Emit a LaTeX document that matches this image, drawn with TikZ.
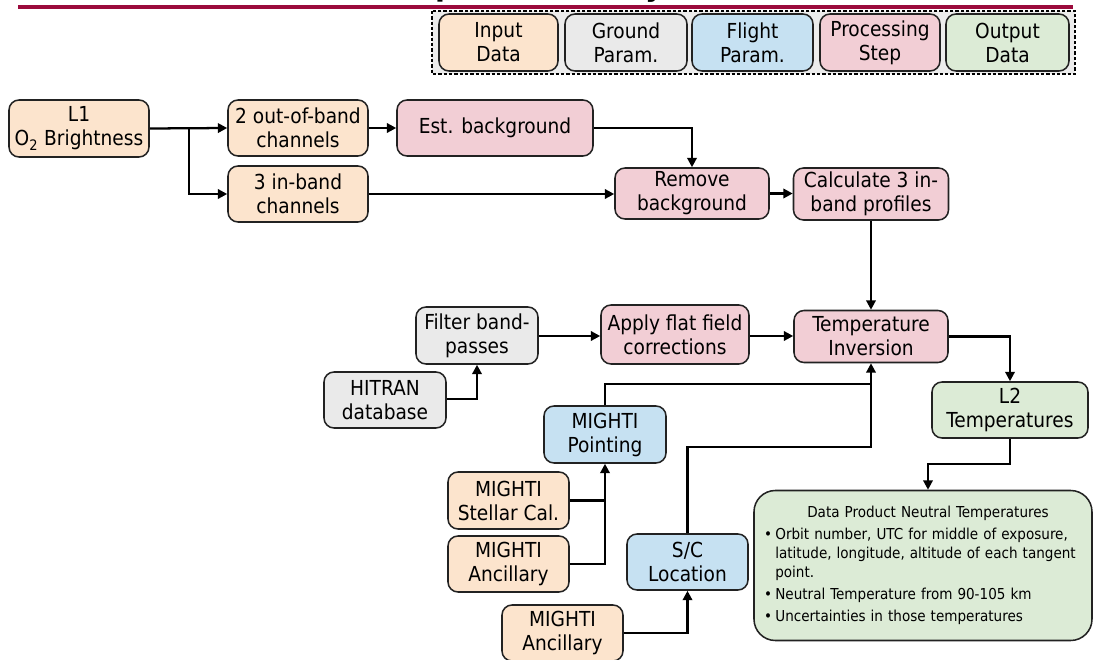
\documentclass[tikz,border=0pt]{standalone}
\usepackage{fontspec}
\setmainfont{DejaVu Sans Condensed}
\usetikzlibrary{arrows.meta,calc}
\definecolor{inpc}{HTML}{FCE4CD}
\definecolor{grdc}{HTML}{EAEAEA}
\definecolor{fltc}{HTML}{C6E1F2}
\definecolor{proc}{HTML}{F2CED5}
\definecolor{outc}{HTML}{DCEBD6}
\definecolor{bordc}{HTML}{222222}
\definecolor{legbg}{HTML}{ECECEC}
\definecolor{redline}{HTML}{9B0A3C}
\tikzset{
  boxbase/.style={draw=bordc, line width=1.15pt, rounded corners=7.5pt, align=center,
    inner sep=0pt, font=\fontsize{15.5pt}{18pt}\selectfont},
  inp/.style={boxbase, fill=inpc},
  grd/.style={boxbase, fill=grdc},
  flt/.style={boxbase, fill=fltc},
  prc/.style={boxbase, fill=proc},
  outb/.style={boxbase, fill=outc},
  conn/.style={line width=1.7pt, draw=black},
  arr/.style={conn, -{Triangle[length=7pt,width=7pt]}},
  titlefrag/.style={anchor=base, inner sep=0pt, font=\bfseries\fontsize{24pt}{24pt}\selectfont}
}
\newcommand\dpitem{\par\vspace{2.6pt}\hangindent=8.5pt\hangafter=1\noindent\makebox[8.5pt][l]{•}}
\begin{document}
\begin{tikzpicture}[x=0.75pt,y=-0.75pt]
\useasboundingbox (0,0) rectangle (1093,660);

% cut-off title and rule
\node[titlefrag] (tp) at (446,-4) {p};
\node[titlefrag] (ty) at (655,-4) {y};
\draw[line width=3pt, redline] (18,7) -- (1073,7);

% legend
\draw[line width=0.8pt, dash pattern=on 2.5pt off 1.5pt, fill=legbg] (432,11) rectangle (1075,74);
\node[inp, minimum width=89.25pt, minimum height=42.75pt] (lg1) at (498.5,42.5) {Input\\Data};
\node[grd, minimum width=91.5pt, minimum height=42.75pt] (lg2) at (626,42.5) {Ground\\Param.};
\node[flt, minimum width=90.75pt, minimum height=42.75pt] (lg3) at (752.5,42.5) {Flight\\Param.};
\node[prc, minimum width=90pt, minimum height=42.75pt] (lg4) at (880,42.5) {Processing\\Step};
\node[outb, minimum width=92.25pt, minimum height=42.75pt] (lg5) at (1007.5,42.5) {Output\\Data};

% nodes
\node[inp, minimum width=105pt, minimum height=42.75pt] (l1) at (79,128.5) {L1\\O\textsubscript{2} Brightness};
\node[inp, minimum width=105pt, minimum height=42pt] (oob) at (298,128) {2 out-of-band\\channels};
\node[inp, minimum width=105pt, minimum height=42pt] (inb) at (298,194) {3 in-band\\channels};
\node[prc, minimum width=147pt, minimum height=42pt] (est) at (495,128) {Est. background};
\node[prc, minimum width=115.5pt, minimum height=38.25pt] (rem) at (692,193.5) {Remove\\background};
\node[prc, minimum width=116.25pt, minimum height=39pt] (calc) at (871,194) {Calculate 3 in-\\band profiles};
\node[grd, minimum width=91.5pt, minimum height=42.75pt] (filt) at (477,335.5) {Filter band-\\passes};
\node[prc, minimum width=111pt, minimum height=44.25pt] (flat) at (675,334.5) {Apply flat field\\corrections};
\node[prc, minimum width=115.5pt, minimum height=39pt] (tinv) at (871,336.5) {Temperature\\Inversion};
\node[outb, minimum width=117pt, minimum height=42pt] (l2) at (1010,410) {L2\\Temperatures};
\node[grd, minimum width=91.5pt, minimum height=42pt] (hit) at (385,400) {HITRAN\\database};
\node[flt, minimum width=91.5pt, minimum height=42.75pt] (point) at (605,434.5) {MIGHTI\\Pointing};
\node[inp, minimum width=90.75pt, minimum height=42.75pt] (stel) at (508.5,500.5) {MIGHTI\\Stellar Cal.};
\node[inp, minimum width=90.75pt, minimum height=42pt] (anc1) at (508.5,564) {MIGHTI\\Ancillary};
\node[flt, minimum width=90.75pt, minimum height=42pt] (sc) at (687.5,562) {S/C\\Location};
\node[inp, minimum width=90.75pt, minimum height=42pt] (anc2) at (562.5,633) {MIGHTI\\Ancillary};

\node[boxbase, fill=outc, rounded corners=16pt, minimum width=253.5pt, minimum height=112.5pt, text width=246pt,
  align=left, font=\fontsize{11.3pt}{14pt}\selectfont] (dp) at (923,565.5)
  {{\centering\hspace*{7.5pt}Data Product Neutral Temperatures\par}\raggedright\leftskip=3.75pt
   \dpitem Orbit number, UTC for middle of exposure,\newline latitude, longitude, altitude of each tangent\newline point.
   \dpitem Neutral Temperature from 90-105 km
   \dpitem Uncertainties in those temperatures\par};

% junction coordinates
\coordinate (br) at (189,128);
\coordinate (jp) at (871,384);
\coordinate (js) at (871,447);
\coordinate (jd) at (928,464);
\coordinate (yf) at (0,336);
\coordinate (yh) at (0,399);

% connectors
\draw[arr] (l1.east) -- (oob.west);
\draw[arr] (br) |- (inb.west);
\draw[arr] (oob.east) -- (est.west);
\draw[arr] (est.east) -| (rem.north);
\draw[arr] (inb.east) -- (inb.east -| rem.west);
\draw[arr] (rem.east) -- (rem.east -| calc.west);
\draw[arr] (calc.south) -- (tinv.north);
\draw[arr] (filt.east |- yf) -- (flat.west |- yf);
\draw[arr] (flat.east |- yf) -- (tinv.west |- yf);
\draw[arr] (hit.east |- yh) -| (filt.south);
\draw[conn] (point.north) |- (jp);
\draw[arr] (sc.north) |- (js) -- (tinv.south);
\draw[arr] (tinv.east) -| (l2.north);
\draw[arr] (l2.south) |- (jd) -- (jd |- dp.north);
\draw[conn] (stel.east) -- (stel.east -| point.south);
\draw[arr] (anc1.east) -| (point.south);
\draw[arr] (anc2.east) -| (sc.south);
\end{tikzpicture}
\end{document}
